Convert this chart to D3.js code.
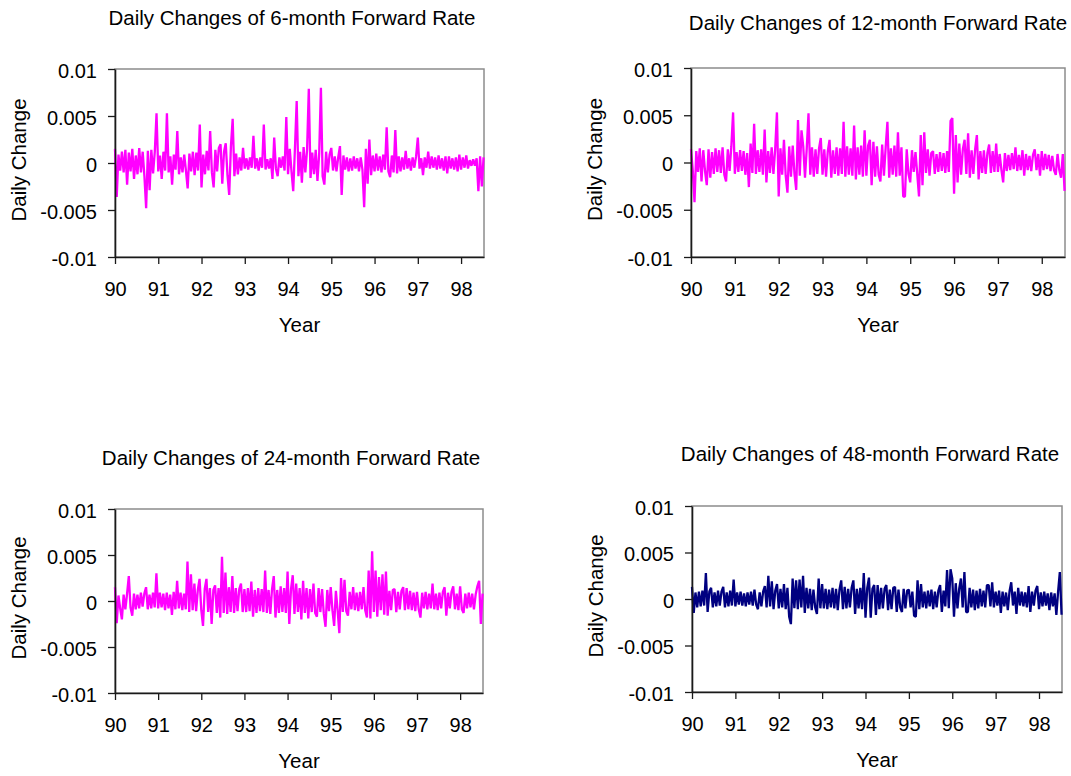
<!DOCTYPE html>
<html>
<head>
<meta charset="utf-8">
<script src="https://cdn.jsdelivr.net/npm/d3@7"></script>
<style>
  body { margin: 0; background: #fff; }
  text { font-family: "Liberation Sans", Arial, sans-serif; fill: #000; }
</style>
</head>
<body>
<svg id="chart" width="1071" height="776"></svg>
<script>
var years = [90, 91, 92, 93, 94, 95, 96, 97, 98],
    yearLabels = ["90", "91", "92", "93", "94", "95", "96", "97", "98"],
    yTicks = [0.01, 0.005, 0, -0.005, -0.01],
    yTickLabels = ["0.01", "0.005", "0", "-0.005", "-0.01"];

// series start in 1990 and are sampled every 0.04 year, up to mid 1998
var tStart = 90, tStep = 0.04, tEnd = 98.53;

// daily changes, in units of 0.0001 (one row = one year)
var fwd6 = [
  15,-36,9,-8,12,-10,14,-23,11,-9,15,-17,8,-12,16,-10,12,-14,-48,13,-29,14,-11,12,53,
  -9,8,-17,12,-8,53,-10,7,-23,9,-7,34,-12,6,-10,9,-8,-27,10,-9,12,-13,11,-8,41,
  -26,9,-12,13,-8,34,-10,-26,14,-9,16,20,-22,12,21,-13,-34,18,47,-14,10,-12,6,-8,16,
  -6,5,-7,6,-5,29,-6,5,-8,6,-5,41,-7,4,-6,5,-17,27,-6,-14,6,-5,7,-8,49,
  -12,15,-9,-30,16,66,-14,12,-21,17,-10,14,79,-16,11,-12,14,-19,10,80,-14,-23,12,-10,9,
  16,-8,7,-9,6,18,-34,8,-7,6,-9,5,-8,7,-6,5,-9,6,-7,-47,15,-22,25,-13,8,
  -9,10,-8,7,-10,9,-7,38,-9,-15,8,-10,35,-11,7,-9,6,-7,13,-6,5,-8,6,-5,7,
  27,-6,5,-13,6,-5,12,-6,7,-5,6,-7,8,-6,5,-8,7,-11,7,-6,5,-7,6,-9,9,
  -7,6,-5,8,-6,3,-3,4,-3,5,-30,7,-25,6
];
var fwd12 = [
  14,-8,-42,12,-10,15,-20,13,-9,-24,14,-16,11,-12,15,-10,13,-11,16,-13,-20,14,-9,17,53,
  -12,11,-10,13,-9,12,-13,10,-26,20,-11,41,-12,13,-10,14,-13,35,-21,12,-11,16,-12,14,53,
  -36,15,-13,24,-14,-32,17,-15,18,-12,-29,45,-14,34,17,-16,15,52,-13,16,-15,14,-12,15,26,
  -13,14,-15,12,24,-16,13,-12,16,-14,15,-12,43,-15,17,-13,15,-14,39,-18,16,-13,18,-15,34,
  -14,18,24,-24,22,-15,17,-13,-20,19,-14,16,43,-16,15,-13,18,-15,32,-14,16,-36,-36,14,-12,
  -21,13,-10,11,-12,-36,29,-24,32,-11,14,-14,10,12,-12,9,-10,11,-9,10,-11,12,-10,44,47,
  -33,29,-21,20,-13,14,24,-12,31,-16,13,-12,14,29,-18,12,-11,13,-12,10,19,-11,12,-10,20,
  -10,9,-8,-21,10,-9,8,-8,10,-7,16,-9,8,-8,13,-14,9,-8,7,-9,8,14,-8,9,-14,
  12,-8,9,-7,8,-9,7,-8,-13,9,-8,-16,9,-30
];
var fwd24 = [
  15,-24,6,-8,-20,7,-9,8,27,-7,-16,8,-9,7,-8,9,-6,8,15,-9,7,-8,9,-7,30,
  -8,9,-7,8,-10,9,-8,7,-15,10,-9,22,-8,9,-10,8,-9,43,-12,29,-10,19,-11,12,24,
  -10,-27,13,24,-12,14,-25,12,17,-13,14,-18,48,-13,31,-14,15,-12,27,-13,14,-11,13,19,-12,
  13,-12,14,-11,21,-17,12,-13,14,-11,13,-12,33,-13,12,-14,13,27,-18,12,-13,16,-12,14,-13,
  32,-25,13,28,-14,19,-12,14,-20,22,-13,14,-19,13,-12,19,-13,-17,14,-12,13,-14,-28,12,-11,
  15,-10,-27,11,-10,-35,25,-12,23,-11,-16,10,-9,15,-10,9,-11,10,-9,15,-10,-18,33,-19,54,
  -12,33,-17,26,-10,29,-15,32,-16,11,-10,12,13,-12,10,-9,11,15,-10,14,-9,11,-10,9,-11,
  10,-9,-18,9,-8,10,-9,8,-8,19,-9,8,-10,9,-8,10,15,-16,9,-8,10,16,-9,8,-10,
  16,-9,-13,8,-8,9,-7,8,-9,7,16,22,-25,8
];
var fwd48 = [
  13,-15,7,-9,8,-8,9,-7,28,-14,8,12,-9,7,-8,9,-7,8,13,-9,7,-8,9,-7,21,
  -8,7,-6,8,-7,6,-8,7,-6,8,-7,10,-6,-11,7,-8,8,14,-9,25,-8,19,-11,9,16,
  -10,11,-9,16,-11,12,-19,-27,22,-10,20,-11,21,-9,25,-15,12,-10,11,-12,10,-9,-16,22,-10,
  16,-10,11,-11,10,-9,12,-10,11,-12,10,20,-11,13,-10,11,-9,12,20,-16,11,-10,12,-11,28,
  -20,12,23,-20,11,15,-17,15,-11,12,-10,11,15,-12,10,-11,12,13,-14,10,-9,-14,11,-10,9,
  10,-9,8,-18,-19,20,-11,16,-9,8,-10,9,-8,10,-11,8,-9,9,15,-14,9,-8,31,-10,32,
  22,-19,17,-10,11,22,-9,29,-14,-14,12,-9,10,-12,9,-10,11,-8,9,-9,15,15,-8,18,-9,
  8,-7,9,-15,8,-8,7,-12,8,18,-7,8,-16,12,-7,8,-8,7,-9,14,-14,8,-7,9,14,
  -11,7,-8,8,-7,6,-12,7,-8,6,-17,8,29,-17
];

var titles = [
  "Daily Changes of 6-month Forward Rate",
  "Daily Changes of 12-month Forward Rate",
  "Daily Changes of 24-month Forward Rate",
  "Daily Changes of 48-month Forward Rate"
];

// plot boxes: left, top, right, bottom; title centre and baseline
var panels = [
  { data: fwd6,  color: "#ff00ff", box: [115, 69, 484, 257], tx: 292, ty: 25 },
  { data: fwd12, color: "#ff00ff", box: [691, 68, 1065, 257], tx: 878, ty: 30 },
  { data: fwd24, color: "#ff00ff", box: [115, 509, 483, 693], tx: 291, ty: 465 },
  { data: fwd48, color: "#000080", box: [692, 506, 1062, 692], tx: 870, ty: 461 }
];

var svg = d3.select("#chart");

panels.forEach(function(p, k) {
  var x0 = p.box[0], y0 = p.box[1], x1 = p.box[2], y1 = p.box[3];

  var x = d3.scaleLinear().domain([tStart, tEnd]).range([x0, x1]),
      y = d3.scaleLinear().domain([-0.01, 0.01]).range([y1, y0]);

  var g = svg.append("g");

  // grey frame, top and right
  g.append("rect")
      .attr("x", x0)
      .attr("y", y0)
      .attr("width", x1 - x0)
      .attr("height", y1 - y0)
      .attr("fill", "none")
      .attr("stroke", "#8c8c8c")
      .attr("stroke-width", 1.5);

  var line = d3.line()
      .x(function(d, i) { return x(tStart + i * tStep); })
      .y(function(d) { return y(d / 1e4); });

  g.append("path")
      .datum(p.data)
      .attr("fill", "none")
      .attr("stroke", p.color)
      .attr("stroke-width", 2.3)
      .attr("stroke-linejoin", "bevel")
      .attr("d", line);

  var xAxis = g.append("g")
      .attr("transform", "translate(0," + y1 + ")")
      .call(d3.axisBottom(x)
        .tickValues(years)
        .tickSize(7)
        .tickSizeOuter(0)
        .tickPadding(18)
        .tickFormat(function(d, i) { return yearLabels[i]; }));

  var yAxis = g.append("g")
      .attr("transform", "translate(" + x0 + ",0)")
      .call(d3.axisLeft(y)
        .tickValues(yTicks)
        .tickSize(7)
        .tickSizeOuter(0)
        .tickPadding(11)
        .tickFormat(function(d, i) { return yTickLabels[i]; }));

  [xAxis, yAxis].forEach(function(a) {
    a.attr("font-size", 20).attr("font-family", null);
    a.select(".domain").attr("stroke", "#1a1a1a").attr("stroke-width", 1.6);
    a.selectAll(".tick line").attr("stroke", "#1a1a1a").attr("stroke-width", 1.3);
    a.selectAll(".tick text").attr("fill", "#000");
  });
  yAxis.selectAll(".tick text").attr("dy", "0.4em");

  g.append("text")
      .attr("x", p.tx)
      .attr("y", p.ty)
      .attr("text-anchor", "middle")
      .attr("font-size", 20.5)
      .text(titles[k]);

  g.append("text")
      .attr("x", (x0 + x1) / 2)
      .attr("y", y1 + 75)
      .attr("text-anchor", "middle")
      .attr("font-size", 20.5)
      .text("Year");

  g.append("text")
      .attr("transform", "translate(" + (x0 - 89) + "," + ((y0 + y1) / 2 - 3) + ") rotate(-90)")
      .attr("text-anchor", "middle")
      .attr("font-size", 20.5)
      .text("Daily Change");
});
</script>
</body>
</html>
